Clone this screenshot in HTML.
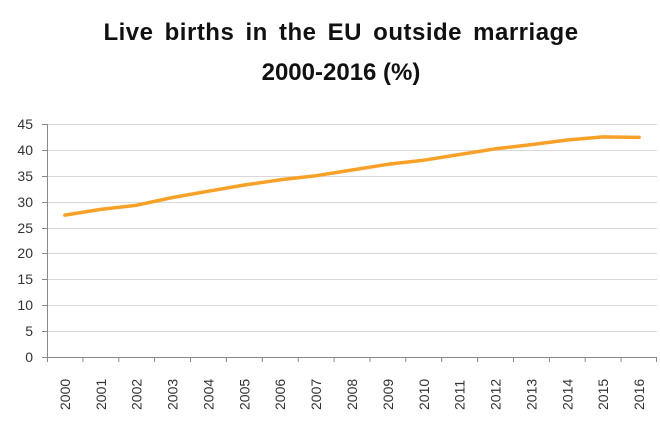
<!DOCTYPE html>
<html><head><style>body{margin:0;background:#fff}svg{display:block}</style></head><body>
<svg width="660" height="421" xmlns="http://www.w3.org/2000/svg" font-family="Liberation Sans, DejaVu Sans, sans-serif">
<text x="341" y="40" text-anchor="middle" font-size="24" font-weight="bold" fill="#111" word-spacing="4" letter-spacing="0.5">Live births in the EU outside marriage</text>
<text x="341" y="80" text-anchor="middle" font-size="24" font-weight="bold" fill="#111">2000-2016 (%)</text>
<g stroke="#d9d9d9" stroke-width="1">
<line x1="47" x2="657" y1="124.5" y2="124.5"/><line x1="47" x2="657" y1="150.5" y2="150.5"/>
<line x1="47" x2="657" y1="176.5" y2="176.5"/><line x1="47" x2="657" y1="202.5" y2="202.5"/>
<line x1="47" x2="657" y1="228.5" y2="228.5"/><line x1="47" x2="657" y1="253.5" y2="253.5"/>
<line x1="47" x2="657" y1="279.5" y2="279.5"/><line x1="47" x2="657" y1="305.5" y2="305.5"/>
<line x1="47" x2="657" y1="331.5" y2="331.5"/>
</g>
<g stroke="#888" stroke-width="1">
<line x1="47.5" x2="47.5" y1="124" y2="362"/><line x1="42" x2="657" y1="357.5" y2="357.5"/>
<line x1="42" x2="47" y1="124.5" y2="124.5"/><line x1="42" x2="47" y1="150.5" y2="150.5"/><line x1="42" x2="47" y1="176.5" y2="176.5"/><line x1="42" x2="47" y1="202.5" y2="202.5"/><line x1="42" x2="47" y1="228.5" y2="228.5"/><line x1="42" x2="47" y1="253.5" y2="253.5"/><line x1="42" x2="47" y1="279.5" y2="279.5"/><line x1="42" x2="47" y1="305.5" y2="305.5"/><line x1="42" x2="47" y1="331.5" y2="331.5"/>
<line x1="82.9" x2="82.9" y1="357" y2="362"/><line x1="118.8" x2="118.8" y1="357" y2="362"/><line x1="154.6" x2="154.6" y1="357" y2="362"/><line x1="190.5" x2="190.5" y1="357" y2="362"/><line x1="226.4" x2="226.4" y1="357" y2="362"/><line x1="262.3" x2="262.3" y1="357" y2="362"/><line x1="298.2" x2="298.2" y1="357" y2="362"/><line x1="334.1" x2="334.1" y1="357" y2="362"/><line x1="370" x2="370" y1="357" y2="362"/><line x1="405.8" x2="405.8" y1="357" y2="362"/><line x1="441.7" x2="441.7" y1="357" y2="362"/><line x1="477.6" x2="477.6" y1="357" y2="362"/><line x1="513.5" x2="513.5" y1="357" y2="362"/><line x1="549.4" x2="549.4" y1="357" y2="362"/><line x1="585.2" x2="585.2" y1="357" y2="362"/><line x1="621.1" x2="621.1" y1="357" y2="362"/><line x1="656.5" x2="656.5" y1="357" y2="362"/>
</g>
<g font-size="14" fill="#333" text-anchor="end">
<text x="33" y="129">45</text><text x="33" y="155">40</text><text x="33" y="181">35</text><text x="33" y="207">30</text><text x="33" y="233">25</text><text x="33" y="258">20</text><text x="33" y="284">15</text><text x="33" y="310">10</text><text x="33" y="336">5</text><text x="33" y="362">0</text>
</g>
<g font-size="14" fill="#333" text-anchor="start">
<text transform="translate(69.9,410) rotate(-90)">2000</text>
<text transform="translate(105.8,410) rotate(-90)">2001</text>
<text transform="translate(141.7,410) rotate(-90)">2002</text>
<text transform="translate(177.6,410) rotate(-90)">2003</text>
<text transform="translate(213.5,410) rotate(-90)">2004</text>
<text transform="translate(249.4,410) rotate(-90)">2005</text>
<text transform="translate(285.2,410) rotate(-90)">2006</text>
<text transform="translate(321.1,410) rotate(-90)">2007</text>
<text transform="translate(357,410) rotate(-90)">2008</text>
<text transform="translate(392.9,410) rotate(-90)">2009</text>
<text transform="translate(428.8,410) rotate(-90)">2010</text>
<text transform="translate(464.6,410) rotate(-90)">2011</text>
<text transform="translate(500.5,410) rotate(-90)">2012</text>
<text transform="translate(536.4,410) rotate(-90)">2013</text>
<text transform="translate(572.3,410) rotate(-90)">2014</text>
<text transform="translate(608.2,410) rotate(-90)">2015</text>
<text transform="translate(644.1,410) rotate(-90)">2016</text>
</g>
<polyline fill="none" stroke="#f7a128" stroke-width="3.5" stroke-linecap="round" stroke-linejoin="round" points="64.9,215.1 100.8,209.4 136.7,205.2 172.6,197.5 208.5,191.2 244.4,185.0 280.2,179.8 316.1,175.7 352.0,170.0 387.9,164.3 423.8,160.2 459.6,154.5 495.5,148.8 531.4,144.6 567.3,140.0 603.2,136.9 639.1,137.4"/>
</svg>
</body></html>
